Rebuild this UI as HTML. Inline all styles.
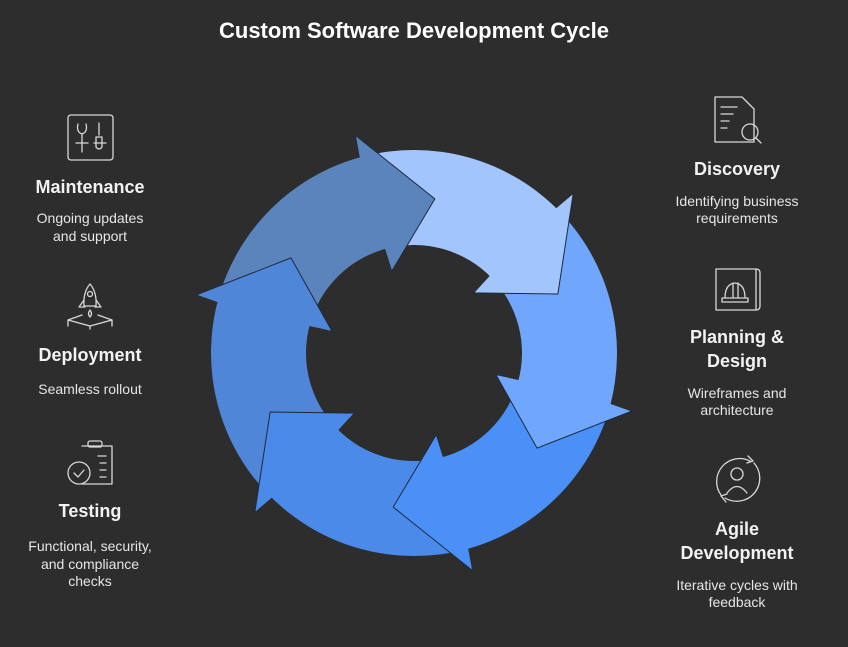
<!DOCTYPE html>
<html><head><meta charset="utf-8"><style>
html,body{margin:0;padding:0;background:#2d2d2d;}
svg{display:block;font-family:"Liberation Sans",sans-serif;}
.t{font-size:18px;font-weight:bold;fill:#f2f2f2;text-anchor:middle}
.d{font-size:14px;fill:#e6e6e6;text-anchor:middle}
.i{fill:none;stroke:#d8d8d8;stroke-width:1.3;stroke-linecap:round;stroke-linejoin:round}
</style></head><body>
<svg id="s" width="848" height="647" viewBox="0 0 848 647" xmlns="http://www.w3.org/2000/svg">
<rect width="848" height="647" fill="#2d2d2d"/>
<text x="414" y="38" style="font-size:22px;font-weight:bold;fill:#fff;text-anchor:middle">Custom Software Development Cycle</text>
<g id="ring"></g>

<!-- Right column -->
<g class="i">
<path d="M715 97 H742 L754 109 V142 H715 Z"/><path d="M721 107h16M721 114h12M721 121h8M721 128h6"/>
<circle cx="750" cy="132" r="8"/><path d="M756 138 L761 143"/>
</g>
<text class="t" x="737" y="175">Discovery</text>
<text class="d" x="737" y="206">Identifying business</text>
<text class="d" x="737" y="223">requirements</text>

<g class="i">
<path d="M716 269 H756 V310 H716 Z"/><path d="M756 269 q4 0 4 4 V306 q0 4 -4 4"/>
<path d="M722 298 H748 V302 H722 Z"/><path d="M725 298 q0 -14 10 -15 q10 1 10 15"/><path d="M733 283 V298 M738 283 V298"/>
</g>
<text class="t" x="737" y="343">Planning &amp;</text>
<text class="t" x="737" y="367">Design</text>
<text class="d" x="737" y="398">Wireframes and</text>
<text class="d" x="737" y="415">architecture</text>

<g class="i">
<path d="M750 461 A23 23 0 0 0 721 495"/><path d="M725 498 A23 23 0 0 0 754 463"/>
<path d="M748 456 l5 5 -6 2"/><path d="M726 502 l-5 -6 6 -2"/>
<circle cx="737" cy="474" r="6"/><path d="M727 493 q10 -13 20 0"/>
</g>
<text class="t" x="737" y="535">Agile</text>
<text class="t" x="737" y="559">Development</text>
<text class="d" x="737" y="590">Iterative cycles with</text>
<text class="d" x="737" y="607">feedback</text>

<!-- Left column -->
<g class="i">
<rect x="68" y="115" width="45" height="45" rx="3"/>
<path d="M78 124 q-2 8 4 10 V152 M86 124 q2 8 -4 10"/><path d="M76 143 h12"/>
<path d="M99 123 V135 M96 137 h6 v10 q-3 4 -6 0 Z"/><path d="M94 143 h12"/>
</g>
<text class="t" x="90" y="193">Maintenance</text>
<text class="d" x="90" y="223">Ongoing updates</text>
<text class="d" x="90" y="241">and support</text>

<g class="i">
<path d="M90 284 q-7 8 -6 22 h12 q1 -14 -6 -22 Z"/><circle cx="90" cy="294" r="2.5"/>
<path d="M84 300 l-5 7 h6 M96 300 l5 7 h-6"/><path d="M90 310 q-3 4 0 7 q3 -3 0 -7"/>
<path d="M68 320 l14 -5 M112 320 l-14 -5 M68 320 v6 M112 320 v6 M68 320 l22 6 22 -6 M90 326 v3"/>
</g>
<text class="t" x="90" y="361">Deployment</text>
<text class="d" x="90" y="394">Seamless rollout</text>

<g class="i">
<path d="M82 446 H112 V484 H82"/><rect x="88" y="441" width="14" height="6" rx="2"/>
<path d="M98 456h8M100 463h6M100 470h6M100 477h6"/>
<circle cx="79" cy="473" r="11"/><path d="M74 473 l4 4 6 -7"/>
</g>
<text class="t" x="90" y="517">Testing</text>
<text class="d" x="90" y="551">Functional, security,</text>
<text class="d" x="90" y="569">and compliance</text>
<text class="d" x="90" y="586">checks</text>
</svg>
<script>
(function(){
var cx=414,cy=353,R=203,r=108,HR=225,Hr=85,M=155.5,T=22.7;
var cols=["#a2c5fe","#70a7fc","#4a90f7","#4b8ae9","#5086d8","#5b84bd"];
var bases=[45,105,165,225,285,345];
function p(a,rad){a=a*Math.PI/180;return (cx+rad*Math.sin(a)).toFixed(2)+","+(cy-rad*Math.cos(a)).toFixed(2);}
var g=document.getElementById("ring"),bodies="",heads="";
for(var i=0;i<6;i++){
 var b=bases[i],s=b-60;
 bodies+='<path fill="'+cols[i]+'" d="M'+p(s,R)+' A'+R+' '+R+' 0 0 1 '+p(b+1,R)+' L'+p(b+1,r)+' A'+r+' '+r+' 0 0 0 '+p(s,r)+' Z"/>';
 heads+='<path fill="'+cols[i]+'" stroke="#1e2a3c" stroke-width="1" stroke-linejoin="miter" d="M'+p(b,R)+' L'+p(b,HR)+' L'+p(b+T,M)+' L'+p(b,Hr)+' L'+p(b,r)+'"/>';
 heads+='<path fill="'+cols[i]+'" d="M'+p(b-0.5,R-1)+' L'+p(b,HR-1)+' L'+p(b+T-1,M)+' L'+p(b,Hr+1)+' L'+p(b-0.5,r+1)+' Z"/>';
}
g.innerHTML=bodies+heads;
})();
</script>
</body></html>
